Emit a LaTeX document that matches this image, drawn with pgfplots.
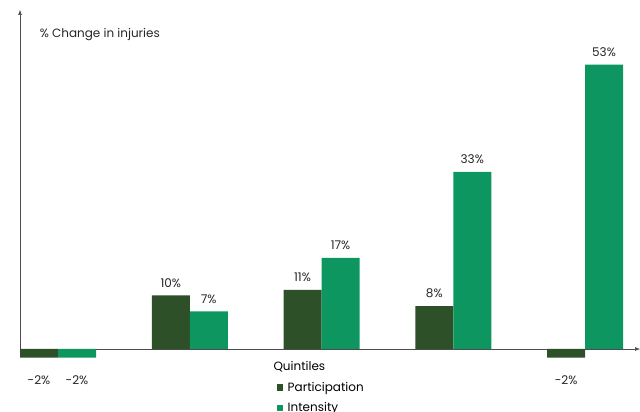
\documentclass[border=0pt]{standalone}
\usepackage{fontspec}
\setmainfont{Poppins}
\usepackage{pgfplots}
\pgfplotsset{compat=1.18}
\usetikzlibrary{arrows.meta}
\definecolor{darkg}{RGB}{45,80,40}
\definecolor{brightg}{RGB}{14,150,96}
\begin{document}
\begin{tikzpicture}
\useasboundingbox (0,0) rectangle (640pt,412pt);
\begin{axis}[
  at={(20pt,63pt)}, anchor=south west,
  scale only axis, width=620pt, height=339pt,
  xmin=-0.2884, xmax=4.417, ymin=0, ymax=63.2,
  axis lines=left,
  axis line style={draw=black!70, line width=0.6pt, -{Latex[length=5pt,width=4pt]}},
  xtick=\empty, ytick=\empty,
  clip=false,
  /pgf/number format/assume math mode=true,
  ybar=0pt, bar width=38pt,
  every axis plot/.append style={draw=none},
  nodes near coords={\pgfmathprintnumber[fixed,precision=0]{\pgfplotspointmeta}\%},
  visualization depends on={y \as \rawy},
  every node near coord/.append style={font=\fontsize{12}{14}\selectfont, text=black!85, yshift={ifthenelse(\rawy<0,-15,4.5)}},
  legend style={draw=none, fill=none, at={(axis cs:1.662,-1.95)}, anchor=north west, font=\fontsize{12}{14}\selectfont, row sep=4.5pt, inner sep=0pt,
    /tikz/every even column/.append style={column sep=3pt}},
  legend cell align=left,
  legend image code/.code={\fill[#1] (0cm,-0.11cm) rectangle (0.22cm,0.11cm);\path (0.3cm,0) circle (0pt);},
]
\addlegendimage{empty legend}
\addlegendentry{\hspace{-0.5cm}Quintiles}
\addplot[fill=darkg] coordinates {(0,-1.6) (1,10) (2,11) (3,8) (4,-1.6)};
\addlegendentry{Participation}
\addplot[fill=brightg] coordinates {(0,-1.6) (1,7) (2,17) (3,33) (4,53)};
\addlegendentry{Intensity}
\node[anchor=west, font=\fontsize{12}{14}\selectfont, text=black!85] at (axis cs:-0.165,58.7) {\% Change in injuries};
\end{axis}
\end{tikzpicture}
\end{document}
